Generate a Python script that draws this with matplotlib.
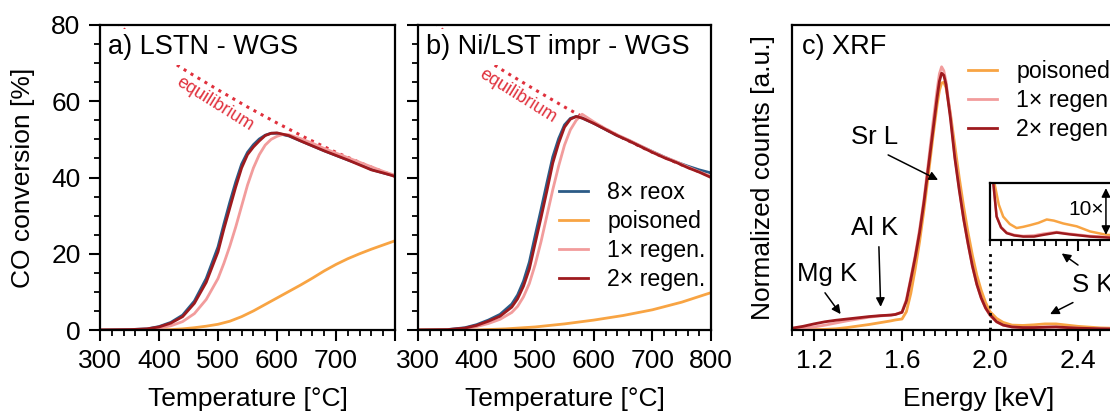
import numpy as np
import matplotlib.pyplot as plt
from matplotlib.ticker import MultipleLocator, FixedLocator, FuncFormatter

plt.rcParams['font.family'] = ['Liberation Sans', 'DejaVu Sans']
plt.rcParams['font.size'] = 19
plt.rcParams['axes.linewidth'] = 1.6
plt.rcParams['xtick.major.width'] = 1.5
plt.rcParams['ytick.major.width'] = 1.5
plt.rcParams['xtick.minor.width'] = 1.3
plt.rcParams['ytick.minor.width'] = 1.3
plt.rcParams['xtick.major.size'] = 8
plt.rcParams['ytick.major.size'] = 8
plt.rcParams['xtick.minor.size'] = 4.5
plt.rcParams['ytick.minor.size'] = 4.5

C_REOX = '#2c5b86'
C_POIS = '#f8a443'
C_REG1 = '#f29c9c'
C_REG2 = '#9e1a1e'
C_EQ = '#e0303c'

# ---------------- panel a : LSTN - WGS ----------------
temp_a = [300, 350, 380, 400, 420, 440, 460, 480, 500, 510, 520, 530, 540, 550, 560,
          570, 580, 590, 600, 620, 640, 660, 680, 700, 720, 740, 760, 780, 800]
reox_a = [0, 0.1, 0.3, 0.9, 2.0, 3.9, 7.6, 13.5, 21.8, 27.8, 33.5, 38.8, 43.5, 46.6, 48.6,
          50.1, 51.1, 51.6, 51.6, 50.9, 49.6, 48.3, 47.0, 45.8, 44.6, 43.5, 42.1, 41.2, 40.4]
reg2_a = [0, 0.1, 0.3, 0.8, 1.8, 3.5, 7.0, 12.5, 20.5, 26.5, 32.0, 37.5, 42.5, 46.0, 48.0,
          49.6, 51.0, 51.6, 51.7, 51.0, 49.6, 48.3, 47.0, 45.8, 44.6, 43.3, 42.0, 41.2, 40.3]
temp_a1 = [300, 350, 380, 400, 420, 440, 460, 480, 500, 510, 520, 530, 540, 550, 560,
           570, 580, 590, 600, 610, 620, 640, 660, 680, 700, 720, 740, 760, 780, 800]
reg1_a = [0, 0, 0.2, 0.5, 1.1, 2.2, 4.3, 8.0, 13.5, 17.5, 22.0, 27.0, 32.5, 38.0, 42.5,
          46.0, 48.5, 50.0, 50.8, 51.3, 51.2, 50.2, 49.0, 47.6, 46.4, 45.2, 44.0, 42.8, 41.6, 40.6]
temp_pois_a = [300, 400, 420, 440, 460, 480, 500, 520, 540, 560, 580, 600, 620, 640, 660,
               680, 700, 720, 740, 760, 780, 800]
pois_a = [0, 0, 0.1, 0.3, 0.6, 1.0, 1.5, 2.3, 3.5, 5.0, 6.7, 8.4, 10.1, 11.8, 13.6,
          15.5, 17.2, 18.7, 20.0, 21.2, 22.3, 23.4]

# ---------------- panel b : Ni/LST impr - WGS ----------------
temp_b = [300, 350, 380, 400, 420, 440, 460, 470, 480, 490, 500, 510, 520, 530, 540,
          550, 560, 570, 580, 600, 620, 640, 660, 680, 700, 720, 740, 760, 780, 800]
reox_b = [0, 0.1, 0.6, 1.4, 2.6, 4.1, 6.8, 9.2, 12.8, 17.8, 24.8, 31.6, 38.6, 45.4, 50.2,
          53.8, 55.5, 56.0, 55.6, 54.2, 52.6, 51.0, 49.7, 48.2, 46.8, 45.4, 44.1, 43.0, 42.0, 41.2]
reg2_b = [0, 0.1, 0.5, 1.2, 2.3, 3.6, 6.0, 8.2, 11.5, 16.0, 22.8, 29.5, 36.5, 43.8, 49.0,
          53.2, 55.3, 56.0, 55.6, 54.2, 52.6, 51.0, 49.6, 48.1, 46.6, 45.2, 44.0, 42.6, 41.4, 40.0]
reg1_b = [0, 0, 0.3, 0.9, 1.7, 2.8, 4.6, 6.2, 8.7, 12.2, 17.2, 23.2, 30.0, 36.8, 43.0,
          48.5, 52.5, 55.0, 56.6, 54.6, 52.8, 51.2, 49.8, 48.3, 46.8, 45.4, 44.2, 42.8, 41.5, 40.3]
temp_pois_b = [300, 400, 450, 500, 550, 600, 650, 700, 750, 800]
pois_b = [0, 0, 0.3, 0.8, 1.6, 2.6, 3.8, 5.3, 7.3, 9.8]

# thermodynamic equilibrium (same in a and b)
temp_eq = [320, 350, 400, 450, 500, 550, 600, 650, 700, 750, 800]
conv_eq = [82, 77.5, 72.5, 67.6, 63, 58.5, 54.3, 50.3, 46.6, 43.3, 40.3]

# ---------------- panel c : XRF ----------------
energy = [1.10, 1.15, 1.20, 1.25, 1.30, 1.35, 1.40, 1.45, 1.50, 1.55, 1.57, 1.60, 1.62, 1.64,
          1.66, 1.68, 1.70, 1.72, 1.74, 1.76, 1.77, 1.78, 1.79, 1.80, 1.82, 1.84, 1.86, 1.88,
          1.90, 1.92, 1.94, 1.96, 1.98, 2.00, 2.03, 2.06, 2.10, 2.15, 2.20, 2.25, 2.30, 2.35,
          2.40, 2.50, 2.60, 2.80]
xrf_pois = [0.1, 0.1, 0.1, 0.2, 0.4, 0.8, 1.3, 1.8, 2.4, 3.0, 3.3, 3.6, 6.0, 12,
            20, 29, 39.5, 51, 63, 74, 78.5, 81, 81.2, 79.5, 71, 60.5, 50, 40.5,
            32, 24.5, 18, 13, 9, 6.0, 3.8, 2.5, 1.6, 1.5, 1.7, 2.0, 2.0, 1.6,
            1.2, 0.7, 0.5, 0.4]
xrf_reg1 = [0.3, 0.6, 1.0, 1.6, 2.3, 3.0, 3.6, 4.2, 4.6, 4.9, 5.1, 5.9, 10, 17,
            24.5, 33, 43, 55, 67.5, 79, 84, 86.3, 85, 81.5, 70.5, 57, 46.5, 36.5,
            28.4, 21, 15, 10.5, 7.2, 4.8, 2.7, 1.6, 1.0, 0.8, 0.9, 1.0, 1.0, 0.8,
            0.6, 0.4, 0.3, 0.3]
xrf_reg2 = [0.6, 1.2, 2.0, 2.7, 3.2, 3.6, 4.0, 4.4, 4.7, 4.9, 5.1, 5.8, 9.5, 16.5,
            23.8, 32, 42, 53.5, 65, 76.5, 81.5, 84.2, 83.5, 80.5, 69.5, 56.5, 46, 36.5,
            28.4, 21, 15, 10.5, 7.2, 5.0, 2.7, 1.6, 1.0, 0.8, 0.8, 0.9, 1.0, 0.8,
            0.6, 0.4, 0.3, 0.3]

# 10x zoom of the S K region (inset)
inset_e_red = [2.0, 2.015, 2.03, 2.05, 2.076, 2.11, 2.151, 2.2, 2.242, 2.303, 2.36, 2.455, 2.55, 2.8]
inset_reg2 = [1.3, 1.0, 0.41, 0.22, 0.12, 0.08, 0.06, 0.06, 0.09, 0.13, 0.10, 0.06, 0.04, 0.03]
inset_reg1 = [1.3, 1.0, 0.42, 0.23, 0.13, 0.09, 0.07, 0.08, 0.11, 0.14, 0.11, 0.07, 0.05, 0.03]
inset_e_pois = [2.0, 2.02, 2.04, 2.06, 2.09, 2.121, 2.15, 2.182, 2.22, 2.258, 2.29, 2.333,
                2.394, 2.455, 2.53, 2.8]
inset_pois = [1.6, 1.0, 0.62, 0.41, 0.28, 0.21, 0.23, 0.26, 0.30, 0.36, 0.34, 0.29,
              0.24, 0.15, 0.09, 0.05]

W, H = 1110, 417


def pos(left, top, right, bottom):
    # pixel box -> figure fraction
    return [left / W, 1 - bottom / H, (right - left) / W, (bottom - top) / H]


fig = plt.figure(figsize=(W / 100, H / 100), dpi=100)
ax_a = fig.add_axes(pos(100, 25, 395, 330))
ax_b = fig.add_axes(pos(418, 25, 711, 330))
ax_c = fig.add_axes(pos(792, 25, 1166, 330))

lw = 2.0
panels = [(ax_a, 'a) LSTN - WGS', (215, 104)),
          (ax_b, 'b) Ni/LST impr - WGS', (518, 96))]
for ax, label, eqtxt in panels:
    ax.plot(temp_eq, conv_eq, ':', color=C_EQ, lw=2.2, zorder=1)
    ax.set_xlim(300, 800)
    ax.set_ylim(0, 80)
    ax.xaxis.set_major_locator(MultipleLocator(100))
    ax.xaxis.set_minor_locator(MultipleLocator(20))
    ax.yaxis.set_major_locator(MultipleLocator(20))
    ax.yaxis.set_minor_locator(MultipleLocator(5))
    ax.tick_params(which='both', direction='out', pad=6)
    ax.set_xlabel('Temperature [°C]', labelpad=10)
    # white box hides the start of the equilibrium line behind the title
    ax.text(0.028, 0.928, label, transform=ax.transAxes, fontsize=19.5, va='center', ha='left',
            zorder=1.5, bbox=dict(boxstyle='square,pad=0.2', fc='white', ec='none'))
    ax.text(eqtxt[0] / W, 1 - eqtxt[1] / H, 'equilibrium', transform=fig.transFigure,
            color=C_EQ, fontsize=13, rotation=-32, ha='center', va='center')

ax_a.plot(temp_pois_a, pois_a, color=C_POIS, lw=lw)
ax_a.plot(temp_a, reox_a, color=C_REOX, lw=lw)
ax_a.plot(temp_a1, reg1_a, color=C_REG1, lw=lw)
ax_a.plot(temp_a, reg2_a, color=C_REG2, lw=lw)
ax_a.set_ylabel('CO conversion [%]', labelpad=12)
ax_a.xaxis.set_major_formatter(FuncFormatter(lambda v, p: '' if v > 750 else '%d' % v))

ax_b.plot(temp_b, reox_b, color=C_REOX, lw=lw, label='8× reox')
ax_b.plot(temp_pois_b, pois_b, color=C_POIS, lw=lw, label='poisoned')
ax_b.plot(temp_b, reg1_b, color=C_REG1, lw=lw, label='1× regen.')
ax_b.plot(temp_b, reg2_b, color=C_REG2, lw=lw, label='2× regen.')
ax_b.set_yticklabels([])
ax_b.legend(loc='upper left', bbox_to_anchor=(0.48, 0.487), frameon=False, fontsize=16.7,
            handlelength=1.25, handletextpad=0.85, labelspacing=0.25, borderpad=0,
            borderaxespad=0)

# panel c
ax_c.plot(energy, xrf_pois, color=C_POIS, lw=lw, label='poisoned')
ax_c.plot(energy, xrf_reg1, color=C_REG1, lw=lw, label='1× regen.')
ax_c.plot(energy, xrf_reg2, color=C_REG2, lw=lw, label='2× regen.')
ax_c.set_xlim(1.1, 2.8)
ax_c.set_ylim(0, 100)
ax_c.xaxis.set_major_locator(FixedLocator([1.2, 1.6, 2.0, 2.4]))
ax_c.xaxis.set_major_formatter(FuncFormatter(lambda v, p: '%.1f' % v))
ax_c.xaxis.set_minor_locator(MultipleLocator(0.05))
ax_c.tick_params(which='both', direction='out', pad=6)
ax_c.set_yticks([])
ax_c.set_xlabel('Energy [keV]', labelpad=10)
ax_c.set_ylabel('Normalized counts [a.u.]', labelpad=12)
ax_c.text(0.027, 0.928, 'c) XRF', transform=ax_c.transAxes, fontsize=19.5, va='center', ha='left')
ax_c.legend(loc='upper left', bbox_to_anchor=(0.47, 0.885), frameon=False, fontsize=16.7,
            handlelength=1.25, handletextpad=0.85, labelspacing=0.25, borderpad=0,
            borderaxespad=0)

# peak annotations
arrow = dict(arrowstyle='-|>', color='k', lw=1.1, mutation_scale=13, shrinkA=0, shrinkB=0)
ax_c.text(1.477, 63.3, 'Sr L', fontsize=18.5, ha='center', va='center')
ax_c.annotate('', xy=(1.764, 49.2), xytext=(1.537, 57.4), arrowprops=arrow)
ax_c.text(1.477, 33.4, 'Al K', fontsize=18.5, ha='center', va='center')
ax_c.annotate('', xy=(1.503, 7.6), xytext=(1.495, 27.3), arrowprops=arrow)
ax_c.text(1.259, 18.4, 'Mg K', fontsize=18.5, ha='center', va='center')
ax_c.annotate('', xy=(1.321, 5.2), xytext=(1.25, 12.2), arrowprops=arrow)
ax_c.text(2.374, 14.75, 'S K', fontsize=18.5, ha='left', va='center')
ax_c.annotate('', xy=(2.273, 5.2), xytext=(2.377, 9.0), arrowprops=arrow)
ax_c.annotate('', xy=(2.326, 25.1), xytext=(2.40, 21.3), arrowprops=arrow)

# inset with the 10x magnified S K region
inset_top, inset_bot = 183, 240
ax_in = fig.add_axes(pos(990, inset_top, 1166, inset_bot))
ax_in.plot(inset_e_pois, inset_pois, color=C_POIS, lw=1.8)
ax_in.plot(inset_e_red, inset_reg1, color=C_REG1, lw=1.8)
ax_in.plot(inset_e_red, inset_reg2, color=C_REG2, lw=1.8)
ax_in.set_xlim(2.0, 2.8)
ax_in.set_ylim(0, 1)
ax_in.set_yticks([])
ax_in.xaxis.set_major_locator(FixedLocator([2.4]))
ax_in.xaxis.set_minor_locator(MultipleLocator(0.05))
ax_in.tick_params(which='both', direction='out', labelbottom=False)
ax_in.text(2.355, 0.53, '10×', fontsize=15, ha='left', va='center')
ax_in.annotate('', xy=(2.527, 0.91), xytext=(2.527, 0.09),
               arrowprops=dict(arrowstyle='<|-|>', color='k', lw=1.1, mutation_scale=13,
                               shrinkA=0, shrinkB=0))

# dotted guide from the main baseline up towards the inset
frac = (330 - 250) / 305
ax_c.axvline(2.0, ymin=0, ymax=frac, color='k', ls=':', lw=2.0)

fig.savefig('out.png', dpi=100)
